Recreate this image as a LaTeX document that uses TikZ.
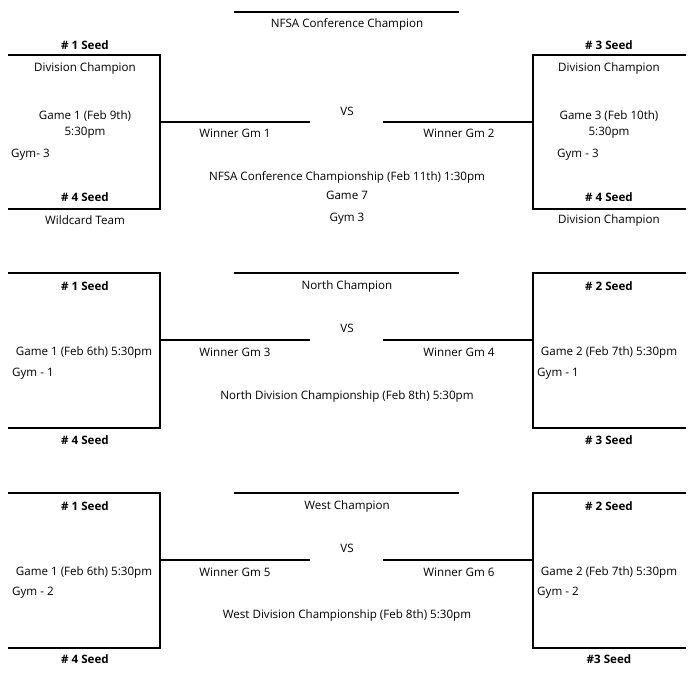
\documentclass[tikz,border=0pt]{standalone}
\usepackage{fontspec}
\setmainfont{Open Sans}
\usetikzlibrary{positioning}

\begin{document}
\begin{tikzpicture}[
    x=1pt, y=-1pt,
    every node/.style={align=center, font=\fontsize{11.6}{13}\selectfont, inner sep=1pt},
    seed/.style={font=\fontsize{11.6}{13}\selectfont\bfseries},
    bar/.style={line width=2.6pt}
]
    \useasboundingbox (0,0) rectangle (698,689);

    % Bracket lines for the three sections
    \foreach \t/\b/\m in {55/209/122, 273/428/340, 493/648/560} {
        \draw[bar] (8,\t) -- (160,\t) -- (160,\b) -- (8,\b);
        \draw[bar] (160,\m) -- (310,\m);
        \draw[bar] (686,\t) -- (533,\t) -- (533,\b) -- (686,\b);
        \draw[bar] (533,\m) -- (383,\m);
    }
    % Champion lines
    \foreach \y in {12, 273, 493}
        \draw[bar] (234,\y) -- (459,\y);

    % Conference section
    \node (confchamp) at (347,24) {NFSA Conference Champion};
    \node[seed] (c-s1) at (85,45) {\# 1 Seed};
    \node (c-div1) at (85,68) {Division Champion};
    \node (c-game1) at (85,116) {Game 1 (Feb 9th)};
    \node (c-time1) at (85,133) {5:30pm};
    \node[anchor=west] (c-gym1) at (10,155) {Gym- 3};
    \node[seed] (c-s4) at (85,197) {\# 4 Seed};
    \node (c-wild) at (85,220) {Wildcard Team};
    \node (c-vs) at (347,111) {VS};
    \node (c-win1) at (235,133) {Winner Gm 1};
    \node (c-win2) at (459,133) {Winner Gm 2};
    \node[seed] (c-s3) at (609,45) {\# 3 Seed};
    \node (c-div2) at (609,68) {Division Champion};
    \node (c-game3) at (609,116) {Game 3 (Feb 10th)};
    \node (c-time3) at (609,133) {5:30pm};
    \node[anchor=west] (c-gym3) at (556,155) {Gym - 3};
    \node[seed] (c-s4b) at (609,197) {\# 4 Seed};
    \node (c-div3) at (609,220) {Division Champion};
    \node (c-title) at (347,177) {NFSA Conference Championship (Feb 11th) 1:30pm};
    \node (c-game7) at (347,195) {Game 7};
    \node (c-gym) at (347,219) {Gym 3};

    % North section
    \node[seed] (n-s1) at (85,286) {\# 1 Seed};
    \node (n-champ) at (347,286) {North Champion};
    \node[seed] (n-s2) at (609,286) {\# 2 Seed};
    \node (n-vs) at (347,328) {VS};
    \node (n-win3) at (235,352) {Winner Gm 3};
    \node (n-win4) at (459,352) {Winner Gm 4};
    \node (n-game1) at (84,352) {Game 1 (Feb 6th) 5:30pm};
    \node[anchor=west] (n-gym1) at (11,374) {Gym - 1};
    \node (n-game2) at (609,352) {Game 2 (Feb 7th) 5:30pm};
    \node[anchor=west] (n-gym2) at (536,374) {Gym - 1};
    \node (n-title) at (347,396) {North Division Championship (Feb 8th) 5:30pm};
    \node[seed] (n-s4) at (85,440) {\# 4 Seed};
    \node[seed] (n-s3) at (609,440) {\# 3 Seed};

    % West section
    \node[seed] (w-s1) at (85,506) {\# 1 Seed};
    \node (w-champ) at (347,506) {West Champion};
    \node[seed] (w-s2) at (609,506) {\# 2 Seed};
    \node (w-vs) at (347,548) {VS};
    \node (w-win5) at (235,572) {Winner Gm 5};
    \node (w-win6) at (459,572) {Winner Gm 6};
    \node (w-game1) at (84,572) {Game 1 (Feb 6th) 5:30pm};
    \node[anchor=west] (w-gym1) at (11,593) {Gym - 2};
    \node (w-game2) at (609,572) {Game 2 (Feb 7th) 5:30pm};
    \node[anchor=west] (w-gym2) at (536,593) {Gym - 2};
    \node (w-title) at (347,615) {West Division Championship (Feb 8th) 5:30pm};
    \node[seed] (w-s4) at (85,659) {\# 4 Seed};
    \node[seed] (w-s3) at (609,659) {\#3 Seed};
\end{tikzpicture}
\end{document}
